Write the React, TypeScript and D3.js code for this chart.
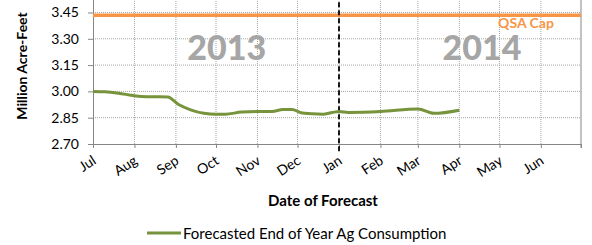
import React, { useEffect, useRef } from "react";
import * as d3 from "d3";

// forecast dates and forecasted end-of-year ag consumption (million acre-feet)
const forecastDates = [
  "2013-07-01", "2013-07-10", "2013-07-20", "2013-08-01", "2013-08-10", "2013-08-20",
  "2013-08-26", "2013-09-03", "2013-09-12", "2013-09-22", "2013-10-01", "2013-10-08",
  "2013-10-20", "2013-11-01", "2013-11-12", "2013-11-20", "2013-11-27", "2013-12-03",
  "2013-12-12", "2013-12-20", "2013-12-27", "2014-01-01", "2014-01-08", "2014-02-01",
  "2014-03-01", "2014-03-13", "2014-04-01",
];
const agConsumption = [
  3.0, 2.998, 2.99, 2.975, 2.97, 2.97,
  2.968, 2.925, 2.895, 2.875, 2.87, 2.87,
  2.882, 2.885, 2.885, 2.897, 2.897, 2.88,
  2.872, 2.87, 2.88, 2.885, 2.88, 2.885,
  2.9, 2.875, 2.893,
];
const qsaCap = 3.435;
const yTicks = [2.7, 2.85, 3.0, 3.15, 3.3, 3.45];
const yTop = 3.6;
const monthTicks = ["2013-07-01", "2013-08-01", "2013-09-01", "2013-10-01", "2013-11-01", "2013-12-01",
  "2014-01-01", "2014-02-01", "2014-03-01", "2014-04-01", "2014-05-01", "2014-06-01", "2014-07-01"];
const yearLabels = [
  { text: "2013", date: "2013-10-09" },
  { text: "2014", date: "2014-04-18" },
];
const yearSplit = "2014-01-01";
const legendLabel = "Forecasted End of Year Ag Consumption";

const font = "Lato, 'Liberation Sans', sans-serif";
const green = "#77933c";
const orange = "#f79646";

export default function App() {
  const ref = useRef<SVGSVGElement>(null);

  useEffect(() => {
    document.body.style.margin = "0";
    const svg = d3.select(ref.current);
    svg.selectAll("*").remove();

    const parse = d3.timeParse("%Y-%m-%d");
    const left = 93, right = 581, bottom = 144;

    const x = d3.scaleTime()
      .domain([parse(monthTicks[0])!, parse(monthTicks[monthTicks.length - 1])!])
      .range([left, right]);
    const y = d3.scaleLinear().domain([2.7, yTop]).range([bottom, -13.8]);

    const data = forecastDates.map((d, i) => ({ date: parse(d)!, value: agConsumption[i] }));
    const months = monthTicks.map((d) => parse(d)!);

    // gridlines
    svg.append("g")
      .selectAll("line")
      .data(yTicks.slice(1).concat([yTop]))
      .enter().append("line")
      .attr("x1", left).attr("x2", right)
      .attr("y1", (d) => y(d)).attr("y2", (d) => y(d))
      .attr("stroke", "#a6a6a6")
      .attr("stroke-width", 1)
      .attr("stroke-dasharray", "1,1");
    svg.append("g")
      .selectAll("line")
      .data(months.slice(1, -1))
      .enter().append("line")
      .attr("x1", (d) => x(d)).attr("x2", (d) => x(d))
      .attr("y1", bottom).attr("y2", y(yTop))
      .attr("stroke", "#a6a6a6")
      .attr("stroke-width", 1)
      .attr("stroke-dasharray", "1,1");

    // year labels
    svg.append("g")
      .selectAll("text")
      .data(yearLabels)
      .enter().append("text")
      .attr("x", (d) => x(parse(d.date)!))
      .attr("y", 60)
      .attr("text-anchor", "middle")
      .attr("font-family", font)
      .attr("font-weight", 900)
      .attr("font-size", 34)
      .attr("fill", "#a6a6a6")
      .text((d) => d.text);

    // y axis
    const yAxis = svg.append("g")
      .attr("transform", "translate(" + left + ",0)")
      .call(d3.axisLeft(y).tickValues(yTicks).tickFormat(d3.format(".2f")).tickSize(5).tickPadding(9));
    yAxis.select(".domain").attr("stroke", "#868686");
    yAxis.selectAll(".tick line").attr("stroke", "#868686");
    yAxis.selectAll("text")
      .attr("font-family", font)
      .attr("font-size", 14)
      .attr("fill", "#000");

    // x axis
    const xAxis = svg.append("g")
      .attr("transform", "translate(0," + bottom + ")")
      .call(d3.axisBottom(x).tickValues(months).tickFormat(() => "").tickSize(4).tickSizeOuter(0));
    xAxis.select(".domain").attr("stroke", "#868686");
    xAxis.selectAll(".tick line").attr("stroke", "#868686");

    svg.append("g")
      .selectAll("text")
      .data(months.slice(0, -1))
      .enter().append("text")
      .attr("transform", (d) => "translate(" + (x(d) + 4) + "," + (bottom + 19) + ") rotate(-33)")
      .attr("text-anchor", "end")
      .attr("font-family", font)
      .attr("font-size", 14)
      .attr("fill", "#000")
      .text((d) => d3.timeFormat("%b")(d));

    // right border
    svg.append("line")
      .attr("x1", right).attr("x2", right)
      .attr("y1", y(yTop)).attr("y2", bottom + 4)
      .attr("stroke", "#868686");

    // QSA cap
    svg.append("line")
      .attr("x1", left).attr("x2", right)
      .attr("y1", y(qsaCap)).attr("y2", y(qsaCap))
      .attr("stroke", orange)
      .attr("stroke-width", 3.5);
    svg.append("text")
      .attr("x", 526)
      .attr("y", 28)
      .attr("text-anchor", "middle")
      .attr("font-family", font)
      .attr("font-weight", "bold")
      .attr("font-size", 14)
      .attr("fill", orange)
      .text("QSA Cap");

    // start of 2014
    svg.append("line")
      .attr("x1", x(parse(yearSplit)!)).attr("x2", x(parse(yearSplit)!))
      .attr("y1", y(yTop)).attr("y2", bottom + 10)
      .attr("stroke", "#000")
      .attr("stroke-width", 1.8)
      .attr("stroke-dasharray", "5,3");

    // forecast line
    const line = d3.line<{ date: Date; value: number }>()
      .x((d) => x(d.date))
      .y((d) => y(d.value))
      .curve(d3.curveMonotoneX);
    svg.append("path")
      .datum(data)
      .attr("d", line)
      .attr("fill", "none")
      .attr("stroke", green)
      .attr("stroke-width", 3)
      .attr("stroke-linejoin", "round");

    // axis titles
    svg.append("text")
      .attr("x", 323)
      .attr("y", 206)
      .attr("text-anchor", "middle")
      .attr("font-family", font)
      .attr("font-weight", "bold")
      .attr("font-size", 15)
      .attr("fill", "#000")
      .text("Date of Forecast");
    svg.append("text")
      .attr("transform", "translate(27,66) rotate(-90)")
      .attr("text-anchor", "middle")
      .attr("font-family", font)
      .attr("font-weight", "bold")
      .attr("font-size", 14)
      .attr("fill", "#000")
      .text("Million Acre-Feet");

    // legend
    svg.append("line")
      .attr("x1", 147).attr("x2", 181)
      .attr("y1", 233).attr("y2", 233)
      .attr("stroke", green)
      .attr("stroke-width", 3);
    svg.append("text")
      .attr("x", 183)
      .attr("y", 238.5)
      .attr("font-family", font)
      .attr("font-size", 15)
      .attr("fill", "#000")
      .text(legendLabel);
  }, []);

  return <svg ref={ref} width={592} height={245} style={{ display: "block" }}></svg>;
}
